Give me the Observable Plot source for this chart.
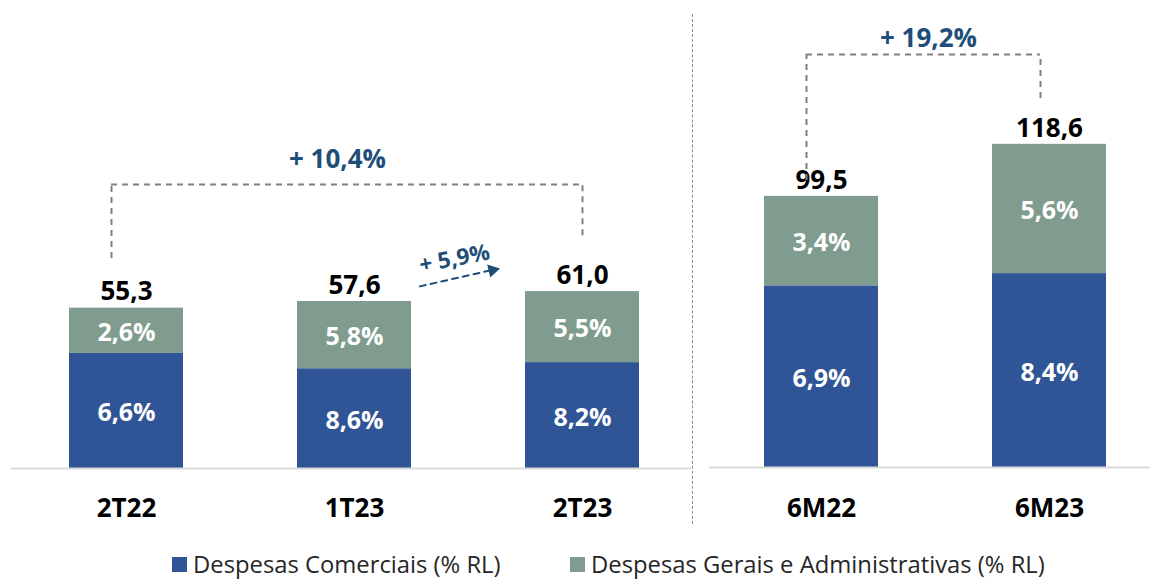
<!DOCTYPE html>
<html><head><meta charset="utf-8">
<script src="https://cdn.jsdelivr.net/npm/d3@7"></script>
<script src="https://cdn.jsdelivr.net/npm/@observablehq/plot@0.6"></script>
<style>
body{margin:0;background:#fff;font-family:"Open Sans",sans-serif;}
#wrap{position:relative;width:1150px;height:581px;overflow:hidden;}
#charts{display:flex;position:absolute;left:0;top:0;}
#sep{position:absolute;left:692px;top:14px;height:510px;border-left:1px dashed #8a8a8a;}
#legend{position:absolute;left:172px;top:551px;display:flex;align-items:center;font-size:23.8px;line-height:26px;color:#262626;}
.item{display:flex;align-items:center;}
.sw{width:15px;height:15px;margin-right:6px;}
</style></head>
<body><div id="wrap"><div id="charts"></div><div id="sep"></div><div id="legend"></div></div>
<script>
const seriesNames = ["Despesas Comerciais (% RL)", "Despesas Gerais e Administrativas (% RL)"];
const seriesColors = ["#2F5597", "#7F9C8F"];

const quarters = ["2T22", "1T23", "2T23"];
const quarterTotals = [55.3, 57.6, 61.0];
const quarterComerciais = [6.6, 8.6, 8.2];
const quarterGerais = [2.6, 5.8, 5.5];

const semesters = ["6M22", "6M23"];
const semesterTotals = [99.5, 118.6];
const semesterComerciais = [6.9, 8.4];
const semesterGerais = [3.4, 5.6];

// annotation anchors (data units)
const quarterBracket = [{from: "2T22", to: "2T23", top: 97.9, fromEnd: 72.4, toEnd: 80.3, label: "+ 10,4%", labelAt: "1T23", labelY: 106.6}];
const quarterArrow = [{from: "1T23", to: "2T23", y1: 57.7, y2: 75.5, headY: 68.4, label: "+ 5,9%", labelY: 72.3}];
const semesterBracket = [{from: "6M22", to: "6M23", top: 151.6, fromEnd: 105.3, toEnd: 135.4, label: "+ 19,2%", labelAt: "6M22", labelY: 157.4}];

const fmt = v => v.toFixed(1).replace(".", ",");
const annoBlue = "#1F4E79";
const dashGray = "#808080";

function rowsFor(periods, totals, com, ger) {
  const rows = [];
  periods.forEach((p, i) => {
    const v1 = totals[i] * com[i] / (com[i] + ger[i]);
    rows.push({period: p, series: seriesNames[0], y1: 0, y2: v1, pct: com[i]});
    rows.push({period: p, series: seriesNames[1], y1: v1, y2: totals[i], pct: ger[i]});
  });
  return rows;
}
const qRows = rowsFor(quarters, quarterTotals, quarterComerciais, quarterGerais);
const sRows = rowsFor(semesters, semesterTotals, semesterComerciais, semesterGerais);

const baseStyle = {fontFamily: '"Open Sans", sans-serif', fontSize: "26px", fontWeight: "bold", color: "#000", background: "transparent", overflow: "visible"};
const dash = {stroke: dashGray, strokeWidth: 2, strokeDasharray: "6,5"};

const left = Plot.plot({
  width: 693, height: 535,
  marginLeft: 11, marginRight: 2, marginTop: 33, marginBottom: 67,
  style: baseStyle,
  x: {domain: quarters, paddingInner: 0.5, paddingOuter: 0.235, align: 0.53, tickSize: 0, tickPadding: 30, label: null},
  y: {domain: [0, 150], axis: null},
  color: {domain: seriesNames, range: seriesColors},
  marks: [
    Plot.barY(qRows, {x: "period", y1: "y1", y2: "y2", fill: "series"}),
    Plot.ruleY([0], {stroke: "#d9d9d9", strokeWidth: 2}),
    Plot.text(qRows, {x: "period", y: d => (d.y1 + d.y2) / 2, text: d => fmt(d.pct) + "%", fill: "white", dy: 2, fontSize: 25}),
    Plot.text(quarters, {x: d => d, y: (d, i) => quarterTotals[i], text: (d, i) => fmt(quarterTotals[i]), dy: -16, fill: "black"}),
    Plot.ruleX(quarterBracket, {x: "from", y1: "fromEnd", y2: "top", dx: -15, ...dash}),
    Plot.ruleX(quarterBracket, {x: "to", y1: "toEnd", y2: "top", dx: 0, ...dash}),
    Plot.ruleY(quarterBracket, {y: "top", x1: "from", x2: "to", insetLeft: 42, insetRight: 57.5, ...dash}),
    Plot.text(quarterBracket, {x: "labelAt", y: "labelY", text: "label", dx: -17, fill: annoBlue, fontSize: 26}),
    Plot.arrow(quarterArrow, {x1: "from", x2: "to", y1: "y1", y2: "y2", insetStart: 67, insetEnd: 96, headLength: 0, stroke: annoBlue, strokeWidth: 2, strokeDasharray: "6,5"}),
    Plot.dot(quarterArrow, {x: "to", y: "headY", dx: -90, symbol: "triangle", r: 5, rotate: 77, fill: annoBlue, stroke: null}),
    Plot.text(quarterArrow, {x: "from", y: "labelY", text: "label", dx: 100, rotate: -11, fill: annoBlue, fontSize: 22.5})
  ]
});

const right = Plot.plot({
  width: 457, height: 535,
  marginLeft: 16, marginRight: 0, marginTop: 31, marginBottom: 68,
  style: baseStyle,
  x: {domain: semesters, paddingInner: 0.5, paddingOuter: 0.217, align: 0.556, tickSize: 0, tickPadding: 31, label: null},
  y: {domain: [0, 160], axis: null},
  color: {domain: seriesNames, range: seriesColors},
  marks: [
    Plot.barY(sRows, {x: "period", y1: "y1", y2: "y2", fill: "series"}),
    Plot.ruleY([0], {stroke: "#d9d9d9", strokeWidth: 2}),
    Plot.text(sRows, {x: "period", y: d => (d.y1 + d.y2) / 2, text: d => fmt(d.pct) + "%", fill: "white", dy: 2, fontSize: 25}),
    Plot.text(semesters, {x: d => d, y: (d, i) => semesterTotals[i], text: (d, i) => fmt(semesterTotals[i]), dy: -16, fill: "black"}),
    Plot.ruleX(semesterBracket, {x: "from", y1: "fromEnd", y2: "top", dx: -15, ...dash}),
    Plot.ruleX(semesterBracket, {x: "to", y1: "toEnd", y2: "top", dx: -9, ...dash}),
    Plot.ruleY(semesterBracket, {y: "top", x1: "from", x2: "to", insetLeft: 42, insetRight: 66, ...dash}),
    Plot.text(semesterBracket, {x: "labelAt", y: "labelY", text: "label", dx: 107, fill: annoBlue, fontSize: 26})
  ]
});

const charts = document.getElementById("charts");
charts.append(left, right);

const legend = document.getElementById("legend");
seriesNames.forEach((name, i) => {
  const item = document.createElement("div");
  item.className = "item";
  if (i === 0) item.style.width = "398px";
  const sw = document.createElement("div");
  sw.className = "sw";
  sw.style.background = seriesColors[i];
  const t = document.createElement("span");
  t.textContent = name;
  item.append(sw, t);
  legend.append(item);
});
</script></body></html>
